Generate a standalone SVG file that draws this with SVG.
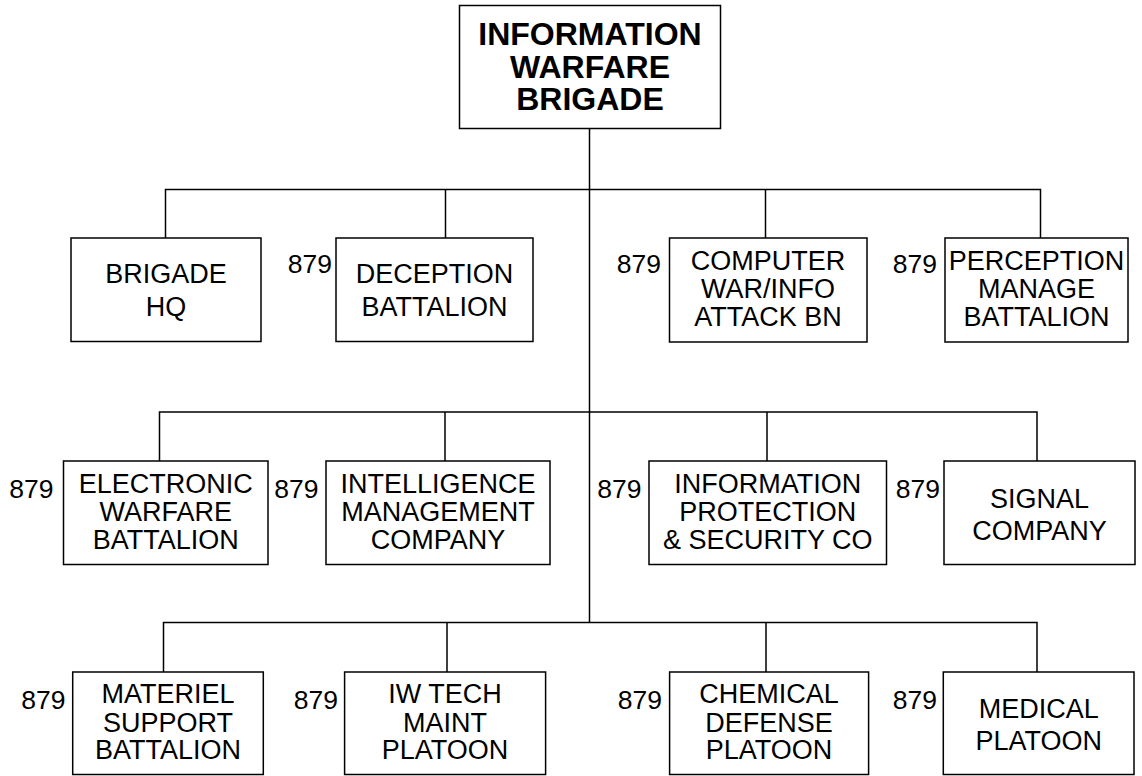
<svg xmlns="http://www.w3.org/2000/svg" width="1142" height="776" viewBox="0 0 1142 776">
<style>
.box{fill:#fff;stroke:#000;stroke-width:1.5}
.ln{fill:none;stroke:#000;stroke-width:1.5}
.t{font-family:"Liberation Sans",Arial,sans-serif;font-size:27px;text-anchor:middle;fill:#000}
.tb{font-family:"Liberation Sans",Arial,sans-serif;font-size:32px;font-weight:bold;text-anchor:middle;fill:#000}
.n{font-family:"Liberation Sans",Arial,sans-serif;font-size:26.5px;text-anchor:end;fill:#000}
</style>
<rect width="1142" height="776" fill="#fff"/>
<g id="connectors">
<path class="ln" d="M589.5 128.5V622.5"/>
<path class="ln" d="M165.5 238V189.5H1040.5V238"/>
<path class="ln" d="M445.5 189.5V238M765.5 189.5V238"/>
<path class="ln" d="M159.5 461V412H1037V461"/>
<path class="ln" d="M445 412V461M767 412V461"/>
<path class="ln" d="M163.5 672V622.5H1037V672"/>
<path class="ln" d="M447 622.5V672M766 622.5V672"/>
</g>
<g id="brigade">
<rect class="box" x="459.5" y="5.5" width="261" height="123"/>
<text class="tb" x="590" y="45">INFORMATION</text>
<text class="tb" x="590" y="77.7">WARFARE</text>
<text class="tb" x="590" y="110">BRIGADE</text>
</g>
<g id="hq">
<rect class="box" x="71" y="238" width="190" height="103.5"/>
<text class="t" x="166" y="283.3">BRIGADE</text>
<text class="t" x="166" y="316">HQ</text>
</g>
<g id="deception">
<text class="n" x="332" y="273">879</text>
<rect class="box" x="336" y="238" width="197" height="103.5"/>
<text class="t" x="434.5" y="283.3">DECEPTION</text>
<text class="t" x="434.5" y="316">BATTALION</text>
</g>
<g id="computer">
<text class="n" x="661" y="273.3">879</text>
<rect class="box" x="669.5" y="238" width="197.5" height="104"/>
<text class="t" x="768" y="270">COMPUTER</text>
<text class="t" x="768" y="298.3">WAR/INFO</text>
<text class="t" x="768" y="326">ATTACK BN</text>
</g>
<g id="perception">
<text class="n" x="937" y="273">879</text>
<rect class="box" x="945" y="238" width="183" height="104"/>
<text class="t" x="1036.5" y="270">PERCEPTION</text>
<text class="t" x="1036.5" y="298.3">MANAGE</text>
<text class="t" x="1036.5" y="326">BATTALION</text>
</g>
<g id="ew">
<text class="n" x="53.5" y="497.7">879</text>
<rect class="box" x="63.5" y="461" width="204.5" height="103.5"/>
<text class="t" x="165.7" y="492.7">ELECTRONIC</text>
<text class="t" x="165.7" y="521">WARFARE</text>
<text class="t" x="165.7" y="549">BATTALION</text>
</g>
<g id="intelligence">
<text class="n" x="318.5" y="497.7">879</text>
<rect class="box" x="326" y="461" width="224" height="103.5"/>
<text class="t" x="438" y="492.7">INTELLIGENCE</text>
<text class="t" x="438" y="521">MANAGEMENT</text>
<text class="t" x="438" y="549">COMPANY</text>
</g>
<g id="infoprot">
<text class="n" x="641.5" y="497.7">879</text>
<rect class="box" x="649" y="461" width="237.5" height="103.5"/>
<text class="t" x="767.7" y="492.7">INFORMATION</text>
<text class="t" x="767.7" y="521">PROTECTION</text>
<text class="t" x="767.7" y="549">&amp; SECURITY CO</text>
</g>
<g id="signal">
<text class="n" x="940" y="497.7">879</text>
<rect class="box" x="944" y="461" width="191" height="103.5"/>
<text class="t" x="1039.5" y="507.7">SIGNAL</text>
<text class="t" x="1039.5" y="540">COMPANY</text>
</g>
<g id="materiel">
<text class="n" x="65.5" y="709.3">879</text>
<rect class="box" x="72.7" y="672" width="190.6" height="102.5"/>
<text class="t" x="168" y="703.3">MATERIEL</text>
<text class="t" x="168" y="731.7">SUPPORT</text>
<text class="t" x="168" y="759.3">BATTALION</text>
</g>
<g id="iwtech">
<text class="n" x="338" y="709.3">879</text>
<rect class="box" x="344.6" y="672" width="201" height="102.5"/>
<text class="t" x="445" y="703.3">IW TECH</text>
<text class="t" x="445" y="731.7">MAINT</text>
<text class="t" x="445" y="759.3">PLATOON</text>
</g>
<g id="chemical">
<text class="n" x="662" y="709.3">879</text>
<rect class="box" x="669.6" y="672" width="199" height="102.5"/>
<text class="t" x="769" y="703.3">CHEMICAL</text>
<text class="t" x="769" y="731.7">DEFENSE</text>
<text class="t" x="769" y="759.3">PLATOON</text>
</g>
<g id="medical">
<text class="n" x="937" y="709.3">879</text>
<rect class="box" x="943.3" y="672" width="190.7" height="102.5"/>
<text class="t" x="1038.7" y="718.3">MEDICAL</text>
<text class="t" x="1038.7" y="750">PLATOON</text>
</g>
</svg>
